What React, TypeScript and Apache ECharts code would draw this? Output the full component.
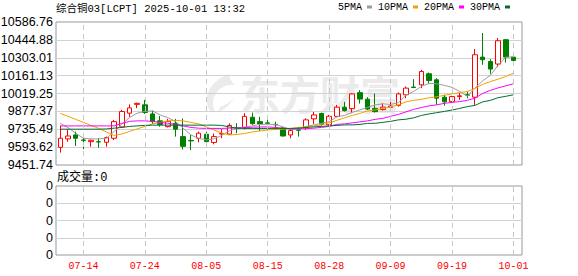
import React, { useEffect, useRef } from 'react';
import * as echarts from 'echarts';

const DATES = [
  '07-09', '07-10', '07-11', '07-14', '07-15', '07-16', '07-17', '07-18', '07-21', '07-22',
  '07-23', '07-24', '07-25', '07-28', '07-29', '07-30', '07-31', '08-01', '08-04', '08-05',
  '08-06', '08-07', '08-08', '08-11', '08-12', '08-13', '08-14', '08-15', '08-18', '08-19',
  '08-20', '08-21', '08-22', '08-26', '08-27', '08-28', '08-29', '09-01', '09-02', '09-03',
  '09-04', '09-05', '09-08', '09-09', '09-10', '09-11', '09-12', '09-15', '09-16', '09-17',
  '09-18', '09-19', '09-22', '09-23', '09-24', '09-25', '09-26', '09-29', '09-30', '10-01',
];

// [open, close, low, high]
const OHLC = [
  [9592, 9664, 9550, 9764], [9659, 9682, 9637, 9736], [9690, 9664, 9603, 9717], [9650, 9648, 9577, 9677],
  [9637, 9648, 9597, 9655], [9637, 9635, 9589, 9664], [9632, 9669, 9597, 9677], [9664, 9796, 9650, 9810],
  [9754, 9876, 9746, 9889], [9863, 9905, 9834, 9933], [9933, 9941, 9903, 9947], [9929, 9869, 9857, 9969],
  [9857, 9796, 9778, 9884], [9802, 9774, 9756, 9841], [9756, 9798, 9750, 9818], [9783, 9736, 9677, 9818],
  [9677, 9600, 9575, 9822], [9647, 9643, 9571, 9690], [9664, 9704, 9632, 9717], [9696, 9637, 9624, 9717],
  [9631, 9677, 9616, 9702], [9698, 9702, 9664, 9736], [9697, 9766, 9690, 9782], [9746, 9744, 9704, 9783],
  [9750, 9838, 9734, 9863], [9831, 9780, 9770, 9868], [9796, 9778, 9722, 9834], [9786, 9783, 9730, 9810],
  [9774, 9771, 9730, 9796], [9744, 9682, 9678, 9754], [9690, 9725, 9664, 9736], [9730, 9728, 9677, 9752],
  [9750, 9810, 9730, 9823], [9818, 9849, 9778, 9873], [9860, 9776, 9764, 9868], [9771, 9838, 9758, 9849],
  [9838, 9911, 9831, 9929], [9911, 9884, 9876, 9953], [9899, 10016, 9863, 10022], [10026, 9975, 9939, 10046],
  [9974, 9896, 9889, 9990], [9901, 9876, 9868, 10019], [9892, 9911, 9884, 9942], [9909, 9919, 9903, 9961],
  [9925, 10016, 9915, 10027], [10009, 10062, 9982, 10075], [10070, 10067, 10062, 10133], [10088, 10194, 10062, 10207],
  [10176, 10122, 10094, 10186], [10128, 9982, 9929, 10141], [9990, 9953, 9923, 10009], [9955, 9995, 9953, 10001],
  [9995, 10001, 9969, 10022], [10009, 10006, 9982, 10035], [9990, 10327, 9929, 10372], [10308, 10287, 10247, 10499],
  [10273, 10213, 10176, 10292], [10253, 10438, 10229, 10460], [10446, 10308, 10265, 10452], [10308, 10281, 10265, 10335],
];

const MA5 = [
  9782, 9748, 9704, 9664, 9659, 9659, 9664, 9717, 9775, 9828,
  9863, 9877, 9881, 9849, 9828, 9796, 9744, 9690, 9663, 9651,
  9659, 9686, 9722, 9744, 9754, 9762, 9774, 9775, 9774, 9754,
  9734, 9738, 9758, 9770, 9782, 9796, 9834, 9845, 9869, 9889,
  9909, 9929, 9937, 9933, 9945, 10005, 10036, 10075, 10100, 10096,
  10084, 10068, 10035, 9997, 10064, 10120, 10164, 10243, 10307, 10311,
];
const MA10 = [
  9861, 9838, 9814, 9790, 9766, 9742, 9714, 9686, 9698, 9718,
  9738, 9758, 9778, 9790, 9802, 9806, 9802, 9790, 9778, 9754,
  9730, 9706, 9690, 9694, 9702, 9714, 9722, 9730, 9734, 9736,
  9742, 9750, 9754, 9762, 9770, 9786, 9806, 9826, 9845, 9861,
  9881, 9889, 9901, 9913, 9929, 9953, 9965, 9973, 9985, 9993,
  10005, 10016, 10027, 10035, 10060, 10092, 10114, 10133, 10154, 10181,
];
const MA20 = [
  9762, 9762, 9762, 9762, 9762, 9762, 9762, 9762, 9782, 9798,
  9802, 9802, 9798, 9790, 9783, 9774, 9762, 9750, 9744, 9742,
  9742, 9742, 9744, 9746, 9748, 9752, 9754, 9754, 9750, 9744,
  9738, 9738, 9740, 9744, 9750, 9758, 9774, 9778, 9786, 9794,
  9802, 9814, 9822, 9838, 9853, 9873, 9893, 9908, 9921, 9929,
  9941, 9949, 9955, 9965, 9982, 10020, 10044, 10064, 10080, 10096,
];
const MA30 = [
  9736, 9736, 9736, 9736, 9736, 9736, 9738, 9744, 9750, 9758,
  9762, 9766, 9768, 9768, 9768, 9768, 9768, 9768, 9768, 9768,
  9768, 9766, 9754, 9744, 9742, 9742, 9742, 9742, 9742, 9742,
  9742, 9744, 9750, 9754, 9758, 9762, 9766, 9770, 9770, 9774,
  9782, 9783, 9790, 9798, 9810, 9815, 9826, 9845, 9857, 9867,
  9877, 9888, 9901, 9915, 9925, 9953, 9965, 9986, 9997, 10009,
];
const VOLUME = [
  0, 0, 0, 0, 0, 0, 0, 0, 0, 0, 0, 0, 0, 0, 0, 0, 0, 0, 0, 0,
  0, 0, 0, 0, 0, 0, 0, 0, 0, 0, 0, 0, 0, 0, 0, 0, 0, 0, 0, 0,
  0, 0, 0, 0, 0, 0, 0, 0, 0, 0, 0, 0, 0, 0, 0, 0, 0, 0, 0, 0,
];

const X_LABELS = ['07-14', '07-24', '08-05', '08-15', '08-28', '09-09', '09-19', '10-01'];
// bottom to top
const Y_TICKS = ['9451.74', '9593.62', '9735.49', '9877.37', '10019.25', '10161.13', '10303.01', '10444.88', '10586.76'];
const VOL_TICKS = ['0', '0', '0', '0', '0'];
const Y_MIN = 9451.74;
const Y_MAX = 10586.76;

const TITLE = '综合铜03[LCPT] 2025-10-01 13:32';
const VOL_TITLE = '成交量:0';
const WATERMARK = '东方财富';

const MA_NAMES = ['5PMA', '10PMA', '20PMA', '30PMA'];
const MA_COLORS = ['#9c9c9c', '#f0a000', '#ff00ff', '#006e33'];

const MONO = '"Liberation Mono", "Noto Sans CJK SC", monospace';
const SANS = '"Liberation Sans", Arial, sans-serif';

let logoRegistered = false;
function registerLogo() {
  if (logoRegistered) return;
  const d =
    'M26 0 C10 6 2 18 4 30 C5 35 8 38 12 38 C8 30 10 20 18 14 C22 11 28 10 32 11 C28 7 26 4 26 0 Z ' +
    'M15 38 C21 36 28 30 32 22 C29 27 23 31 17 33 Z';
  echarts.graphic.registerShape('logo', echarts.graphic.extendPath(d, {}) as any);
  logoRegistered = true;
}

export default function App() {
  const ref = useRef<HTMLDivElement>(null);

  useEffect(() => {
    document.body.style.margin = '0';
    registerLogo();
    if (!ref.current) return;
    const chart = echarts.init(ref.current, undefined, { renderer: 'svg' });

    const gridMain = { top: 22, height: 143 };
    const gridVol = { top: 186, height: 69 };
    const bgLeft = 56;
    const bgWidth = 466;
    const dataLeft = 56.5;
    const dataWidth = 460.8;

    const dashed = {
      silent: true,
      symbol: ['none', 'none'],
      label: { show: false },
      emphasis: { disabled: true },
      lineStyle: { color: '#c8c8c8', type: [5, 4], width: 1 },
      data: X_LABELS.map((d) => ({ xAxis: d })),
    };

    const option: any = {
      animation: false,
      backgroundColor: '#ffffff',
      legend: {
        data: MA_NAMES,
        left: 338,
        top: 2,
        padding: 0,
        itemGap: 6,
        itemWidth: 5,
        itemHeight: 3,
        icon: 'rect',
        align: 'right',
        selectedMode: false,
        textStyle: { fontFamily: MONO, fontSize: 10, color: '#000' },
      },
      grid: [
        { left: bgLeft, width: bgWidth, ...gridMain, show: true, borderColor: '#999', borderWidth: 1, containLabel: false, outerBoundsMode: 'none' },
        { left: dataLeft, width: dataWidth, ...gridMain, containLabel: false, outerBoundsMode: 'none' },
        { left: bgLeft, width: bgWidth, ...gridVol, show: true, borderColor: '#999', borderWidth: 1, containLabel: false, outerBoundsMode: 'none' },
        { left: dataLeft, width: dataWidth, ...gridVol, containLabel: false, outerBoundsMode: 'none' },
      ],
      xAxis: [
        { gridIndex: 0, type: 'value', min: 0, max: 1, show: false },
        { gridIndex: 1, type: 'category', data: DATES, boundaryGap: true, show: false },
        { gridIndex: 2, type: 'value', min: 0, max: 1, show: false },
        {
          gridIndex: 3,
          type: 'category',
          data: DATES,
          boundaryGap: true,
          axisLine: { show: false },
          axisTick: { show: false },
          splitLine: { show: false },
          axisLabel: {
            interval: (_i: number, v: string) => X_LABELS.includes(v),
            color: '#ff0000',
            fontFamily: MONO,
            fontSize: 10,
            margin: 6,
          },
        },
      ],
      yAxis: [
        {
          gridIndex: 0,
          type: 'value',
          min: 0,
          max: 8,
          interval: 1,
          axisLine: { show: false },
          axisTick: { show: false },
          axisLabel: {
            formatter: (v: number) => Y_TICKS[Math.round(v)] ?? '',
            color: '#000',
            fontFamily: SANS,
            fontSize: 12.5,
            margin: 3,
          },
          splitLine: { show: true, showMinLine: false, showMaxLine: false, lineStyle: { color: '#d2d2d2', width: 1 } },
        },
        { gridIndex: 1, type: 'value', min: Y_MIN, max: Y_MAX, show: false, splitLine: { show: false } },
        {
          gridIndex: 2,
          type: 'value',
          min: 0,
          max: 4,
          interval: 1,
          axisLine: { show: false },
          axisTick: { show: false },
          axisLabel: {
            formatter: (v: number) => VOL_TICKS[Math.round(v)] ?? '',
            color: '#000',
            fontFamily: SANS,
            fontSize: 12.5,
            margin: 3,
          },
          splitLine: { show: true, showMinLine: false, showMaxLine: false, lineStyle: { color: '#d2d2d2', width: 1 } },
        },
        { gridIndex: 3, type: 'value', min: 0, max: 1, show: false, splitLine: { show: false } },
      ],
      series: [
        {
          type: 'candlestick',
          name: 'K',
          xAxisIndex: 1,
          yAxisIndex: 1,
          data: OHLC,
          barWidth: 5,
          z: 3,
          itemStyle: {
            color: '#ffffff',
            color0: '#008000',
            borderColor: '#ff0000',
            borderColor0: '#008000',
            borderWidth: 1,
          },
          markLine: dashed,
        },
        ...MA_NAMES.map((name, k) => ({
          type: 'line',
          name,
          xAxisIndex: 1,
          yAxisIndex: 1,
          data: [MA5, MA10, MA20, MA30][k],
          showSymbol: false,
          symbol: 'none',
          z: 4,
          color: MA_COLORS[k],
          lineStyle: { color: MA_COLORS[k], width: 1 },
          emphasis: { disabled: true },
        })),
        {
          type: 'bar',
          name: VOL_TITLE,
          xAxisIndex: 3,
          yAxisIndex: 3,
          data: VOLUME,
          barWidth: 5,
          itemStyle: { color: '#008000' },
          markLine: dashed,
        },
      ],
      graphic: [
        {
          type: 'logo',
          x: 203,
          y: 74,
          z: -10,
          silent: true,
          style: { fill: '#ebebeb' },
        },
        {
          type: 'text',
          x: 240,
          y: 93,
          z: -10,
          silent: true,
          style: {
            text: WATERMARK,
            font: 'bold 40px "Noto Sans CJK SC"',
            fill: '#ebebeb',
            verticalAlign: 'middle',
          },
        },
        {
          type: 'text',
          x: 56,
          y: 9,
          style: {
            text: TITLE,
            font: `10.5px ${MONO}`,
            fill: '#000',
            verticalAlign: 'middle',
          },
        },
        {
          type: 'text',
          x: 57,
          y: 178,
          style: {
            text: VOL_TITLE,
            font: `12px ${MONO}`,
            fill: '#000',
            verticalAlign: 'middle',
          },
        },
      ],
    };

    chart.setOption(option);
    return () => {
      chart.dispose();
    };
  }, []);

  return <div ref={ref} style={{ width: 578, height: 276 }} />;
}
